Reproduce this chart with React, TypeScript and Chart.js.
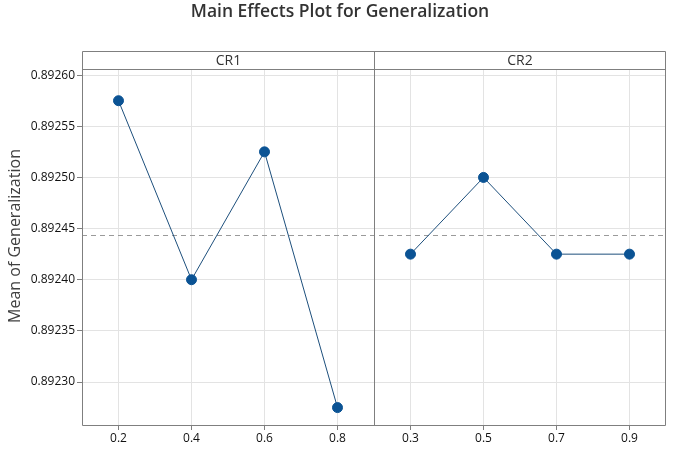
import React, { useEffect, useRef } from "react";
import { Chart, registerables } from "chart.js";

Chart.register(...registerables);

const chartTitle = "Main Effects Plot for Generalization";
const yAxisTitle = "Mean of Generalization";
const panelLabels = ["CR1", "CR2"];
const cr1Levels = ["0.2", "0.4", "0.6", "0.8"];
const cr2Levels = ["0.3", "0.5", "0.7", "0.9"];
const cr1Means = [0.892575, 0.8924, 0.892525, 0.892275];
const cr2Means = [0.892425, 0.8925, 0.892425, 0.892425];
const yTicks = [0.8923, 0.89235, 0.8924, 0.89245, 0.8925, 0.89255, 0.8926];
const grandMean = 0.89244375;
const yMin = 0.892257;
const yMax = 0.892606;

const FONT = "'Open Sans', 'Noto Sans', sans-serif";
const STRIP_TOP = 51;

export default function App() {
  const ref = useRef<HTMLCanvasElement | null>(null);

  useEffect(() => {
    document.body.style.margin = "0";
    const canvas = ref.current;
    if (!canvas) return;
    const labels = [...cr1Levels, ...cr2Levels];
    const nulls1 = cr2Levels.map(() => null);
    const nulls2 = cr1Levels.map(() => null);

    const decor = {
      id: "decor",
      beforeDatasetsDraw(chart: any) {
        const { ctx, chartArea } = chart;
        const y = chart.scales.y.getPixelForValue(grandMean);
        ctx.save();
        ctx.strokeStyle = "#9a9a9a";
        ctx.lineWidth = 1;
        ctx.setLineDash([5, 4]);
        ctx.beginPath();
        ctx.moveTo(chartArea.left, Math.round(y) + 0.5);
        ctx.lineTo(chartArea.right, Math.round(y) + 0.5);
        ctx.stroke();
        ctx.restore();
      },
      afterDraw(chart: any) {
        const { ctx, chartArea } = chart;
        const xs = chart.scales.x;
        const n1 = cr1Levels.length;
        const div = Math.round((xs.getPixelForValue(n1 - 1) + xs.getPixelForValue(n1)) / 2) + 0.5;
        const L = Math.round(chartArea.left) + 0.5;
        const R = Math.round(chartArea.right) - 0.5;
        const T = Math.round(chartArea.top) + 0.5;
        const B = Math.round(chartArea.bottom) - 0.5;
        ctx.save();
        ctx.fillStyle = "#ffffff";
        ctx.fillRect(L, STRIP_TOP, R - L, T - STRIP_TOP);
        ctx.strokeStyle = "#7f7f7f";
        ctx.lineWidth = 1;
        ctx.beginPath();
        ctx.rect(L, STRIP_TOP + 0.5, R - L, B - STRIP_TOP - 0.5);
        ctx.moveTo(L, T);
        ctx.lineTo(R, T);
        ctx.moveTo(div, STRIP_TOP);
        ctx.lineTo(div, B);
        ctx.stroke();
        ctx.fillStyle = "#333333";
        ctx.font = `14px ${FONT}`;
        ctx.textAlign = "center";
        ctx.textBaseline = "middle";
        const sy = (STRIP_TOP + T) / 2 + 0.5;
        ctx.fillText(panelLabels[0], (L + div) / 2, sy);
        ctx.fillText(panelLabels[1], (div + R) / 2, sy);
        ctx.font = `600 17.5px ${FONT}`;
        ctx.fillText(chartTitle, chart.width / 2, 12);
        ctx.save();
        ctx.translate(15, 236);
        ctx.rotate(-Math.PI / 2);
        ctx.fillStyle = "#404040";
        ctx.font = `16px ${FONT}`;
        ctx.fillText(yAxisTitle, 0, 0);
        ctx.restore();
        ctx.restore();
      },
    };

    const chart = new Chart(canvas, {
      type: "line",
      data: {
        labels,
        datasets: [
          {
            label: panelLabels[0],
            data: [...cr1Means, ...nulls1],
            borderColor: "#1d4f7c",
            backgroundColor: "#0b5394",
            pointBackgroundColor: "#0b5394",
            pointBorderColor: "#0b5394",
            borderWidth: 1,
            pointRadius: 5,
            spanGaps: false,
          },
          {
            label: panelLabels[1],
            data: [...nulls2, ...cr2Means],
            borderColor: "#1d4f7c",
            backgroundColor: "#0b5394",
            pointBackgroundColor: "#0b5394",
            pointBorderColor: "#0b5394",
            borderWidth: 1,
            pointRadius: 5,
            spanGaps: false,
          },
        ],
      },
      options: {
        animation: false,
        responsive: true,
        maintainAspectRatio: false,
        layout: { padding: { top: 69, right: 14, left: 0, bottom: 0 } },
        plugins: { legend: { display: false }, tooltip: { enabled: false }, title: { display: false } },
        scales: {
          x: {
            type: "category",
            offset: true,
            grid: { offset: false, color: "#e3e3e3", drawTicks: true, tickLength: 4, tickColor: "#7f7f7f" },
            border: { display: false },
            ticks: { color: "#111", font: { family: FONT, size: 12 }, padding: 1, maxRotation: 0 },
            afterFit(scale: any) {
              scale.height = 26;
            },
          },
          y: {
            type: "linear",
            min: yMin,
            max: yMax,
            grid: { color: "#e3e3e3", tickLength: 5, tickColor: "#7f7f7f" },
            border: { display: false },
            afterBuildTicks(scale: any) {
              scale.ticks = yTicks.map((v) => ({ value: v }));
            },
            ticks: {
              color: "#111",
              font: { family: FONT, size: 12 },
              padding: 2,
              callback: (v: any) => Number(v).toFixed(5),
            },
            title: { display: false },
            afterFit(scale: any) {
              scale.width = 82;
            },
          },
        },
      },
      plugins: [decor],
    });
    return () => chart.destroy();
  }, []);

  return (
    <div style={{ width: 680, height: 452, position: "relative" }}>
      <canvas ref={ref} />
    </div>
  );
}
